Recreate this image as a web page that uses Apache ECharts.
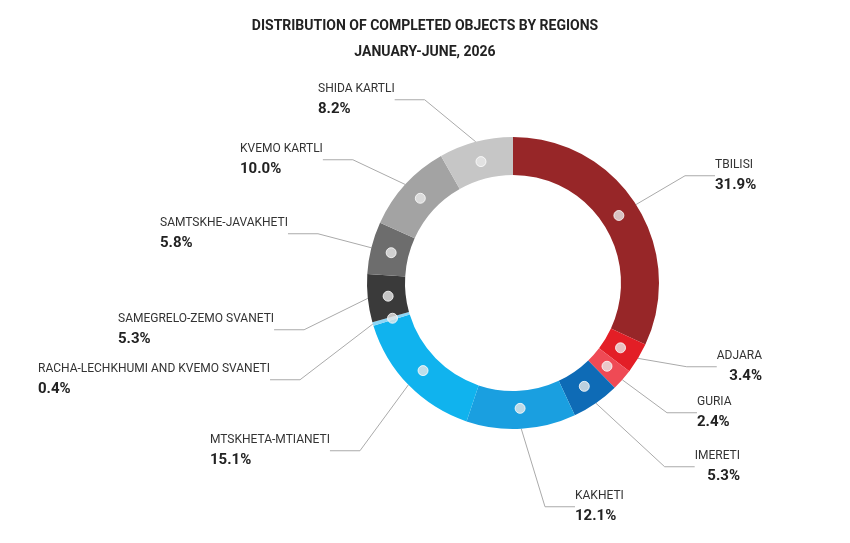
<!DOCTYPE html>
<html>
<head>
<meta charset="utf-8">
<script src="https://cdn.jsdelivr.net/npm/echarts@6/dist/echarts.min.js"></script>
<style>html,body{margin:0;padding:0;background:#fff}#chart{width:850px;height:543px}</style>
</head>
<body>
<div id="chart"></div>
<script>
const regions = ['TBILISI', 'ADJARA', 'GURIA', 'IMERETI', 'KAKHETI', 'MTSKHETA-MTIANETI',
  'RACHA-LECHKHUMI AND KVEMO SVANETI', 'SAMEGRELO-ZEMO SVANETI', 'SAMTSKHE-JAVAKHETI',
  'KVEMO KARTLI', 'SHIDA KARTLI'];
const shares = [31.9, 3.4, 2.4, 5.3, 12.1, 15.1, 0.4, 5.3, 5.8, 10.0, 8.2];
const colors = ['#972628', '#e31e26', '#ef4a55', '#0e6bb6', '#1a9fe0', '#10b3ee',
  '#8ed6f6', '#3a3a3a', '#6d6d6d', '#a3a3a3', '#c6c6c6'];
// label anchor positions (layout only)
const labelPos = [
  [715, 175, 'left'], [762, 366, 'right'], [697, 412, 'left'], [740, 466, 'right'],
  [575, 506, 'left'], [210, 450, 'left'], [38, 379, 'left'], [118, 329, 'left'],
  [160, 233, 'left'], [240, 159, 'left'], [318, 99, 'left']
];

const total = shares.reduce((a, b) => a + b, 0);
let acc = 0;
const dots = shares.map(v => { const m = acc + v / 2; acc += v; return [0.86, m]; });

const chart = echarts.init(document.getElementById('chart'));
chart.setOption({
  title: {
    text: 'DISTRIBUTION OF COMPLETED OBJECTS BY REGIONS\nJANUARY-JUNE, 2026',
    left: 'center', top: 8,
    textStyle: { fontFamily: 'Roboto', fontWeight: 'bold', fontSize: 14, color: '#222', lineHeight: 26 }
  },
  polar: { center: [513, 283], radius: 146 },
  angleAxis: { type: 'value', min: 0, max: total, startAngle: 90, clockwise: true, show: false },
  radiusAxis: { type: 'value', min: 0, max: 1, show: false },
  series: [{
    type: 'pie',
    center: [513, 283],
    radius: [108, 146],
    startAngle: 90,
    clockwise: true,
    silent: true,
    itemStyle: { borderColor: '#fff', borderWidth: 0 },
    data: regions.map((n, i) => ({ name: n, value: shares[i], itemStyle: { color: colors[i] } })),
    label: {
      show: true,
      formatter: p => '{n|' + p.name + '}\n{v|' + p.value.toFixed(1) + '%}',
      rich: {
        n: { fontFamily: 'Roboto', fontSize: 12, color: '#333', lineHeight: 20 },
        v: { fontFamily: 'Roboto', fontSize: 15, fontWeight: 'bold', color: '#222', lineHeight: 20 }
      }
    },
    labelLine: { show: true, lineStyle: { color: '#aaa', width: 1 } },
    labelLayout: p => {
      const lp = labelPos[p.dataIndex];
      return { x: lp[0], y: lp[1], align: lp[2], verticalAlign: 'middle' };
    }
  }, {
    type: 'scatter',
    coordinateSystem: 'polar',
    silent: true,
    symbolSize: 10,
    itemStyle: { color: '#e8e8e8', borderColor: '#fff', borderWidth: 1 },
    data: dots,
    z: 5
  }]
});
</script>
</body>
</html>
